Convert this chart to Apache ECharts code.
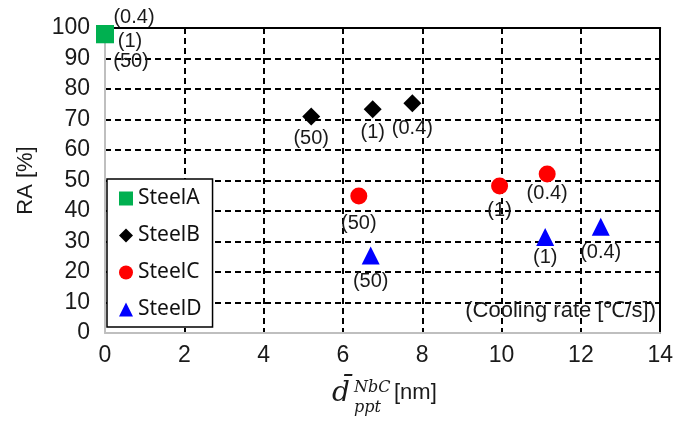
<!DOCTYPE html>
<html>
<head>
<meta charset="utf-8">
<script src="https://cdn.jsdelivr.net/npm/echarts@6/dist/echarts.min.js"></script>
<style>
  html, body { margin: 0; padding: 0; background: #fff; }
  #chart { width: 676px; height: 423px; }
</style>
</head>
<body>
<div id="chart"></div>
<script>
// data
var seriesNames = ['SteelA', 'SteelB', 'SteelC', 'SteelD'];
var steelA_x = [0, 0, 0];
var steelA_y = [98, 98, 98];
var steelA_rate = ['(0.4)', '(1)', '(50)'];
var steelB_x = [5.2, 6.75, 7.75];
var steelB_y = [71, 73.4, 75.3];
var steelB_rate = ['(50)', '(1)', '(0.4)'];
var steelC_x = [6.4, 9.95, 11.15];
var steelC_y = [44.9, 48.2, 52.1];
var steelC_rate = ['(50)', '(1)', '(0.4)'];
var steelD_x = [6.7, 11.1, 12.5];
var steelD_y = [25.4, 31.5, 34.8];
var steelD_rate = ['(50)', '(1)', '(0.4)'];
var xTicks = [0, 2, 4, 6, 8, 10, 12, 14];
var yTicks = [0, 10, 20, 30, 40, 50, 60, 70, 80, 90, 100];

// where each label sits relative to its marker (px)
var labelShift = {
	SteelA: [[29, -17], [25, 7], [26, 27]],
	SteelB: [[0, 22], [0, 23], [0, 25]],
	SteelC: [[0, 27], [0, 24], [0, 19]],
	SteelD: [[0, 26], [0, 21], [0, 26]]
};

var font = 'Liberation Sans, Arial, sans-serif';

function makeSeries(name, xs, ys, rates, symbol, size, color) {
	var data = [];
	for (var i = 0; i < xs.length; i++) {
		data.push({
			value: [xs[i], ys[i]],
			label: { offset: labelShift[name][i] }
		});
	}
	return {
		name: name,
		type: 'scatter',
		symbol: symbol,
		symbolSize: size,
		itemStyle: { color: color, opacity: 1 },
		label: {
			show: true,
			position: 'inside',
			color: '#1a1a1a',
			fontSize: 20,
			fontFamily: font,
			formatter: function (p) { return rates[p.dataIndex]; }
		},
		emphasis: { disabled: true },
		data: data
	};
}

var chart = echarts.init(document.getElementById('chart'), null, { renderer: 'canvas' });

var option = {
	backgroundColor: '#fff',
	animation: false,
	grid: { left: 105, right: 10, top: 28, bottom: 90 },
	legend: {
		orient: 'vertical',
		left: 107,
		top: 179,
		data: seriesNames,
		backgroundColor: '#fff',
		borderColor: '#000',
		borderWidth: 1.5,
		borderRadius: 0,
		padding: [9, 11, 7, 12],
		itemWidth: 14,
		itemHeight: 14,
		itemGap: 16,
		textStyle: { fontFamily: 'Noto Sans, sans-serif', fontSize: 21, color: '#111' }
	},
	xAxis: [{
		type: 'value',
		min: 0, max: 14, interval: 2,
		axisLine: { show: true, onZero: false, lineStyle: { color: '#bfbfbf', width: 2 } },
		axisTick: { show: false },
		axisLabel: {
			margin: 11, fontSize: 23, color: '#1a1a1a', fontFamily: font,
			formatter: function (v) { return xTicks.indexOf(v) >= 0 ? String(v) : ''; }
		},
		splitLine: { show: true, lineStyle: { color: '#000', type: [6, 4], width: 2 } }
	}, {
		type: 'value',
		position: 'top',
		min: 0, max: 14, interval: 2,
		axisLine: { show: true, onZero: false, lineStyle: { color: '#000', width: 2 } },
		axisTick: { show: false },
		axisLabel: { show: false },
		splitLine: { show: false }
	}],
	yAxis: [{
		type: 'value',
		min: 0, max: 100, interval: 10,
		name: 'RA [%]',
		nameLocation: 'middle',
		nameGap: 68,
		nameTextStyle: { fontSize: 22, color: '#1a1a1a', fontFamily: font },
		axisLine: { show: true, onZero: false, lineStyle: { color: '#bfbfbf', width: 2 } },
		axisTick: { show: false },
		axisLabel: {
			margin: 15, fontSize: 23, color: '#1a1a1a', fontFamily: font,
			formatter: function (v) { return yTicks.indexOf(v) >= 0 ? String(v) : ''; }
		},
		splitLine: { show: true, lineStyle: { color: '#000', type: [6, 4], width: 2 } }
	}, {
		type: 'value',
		position: 'right',
		min: 0, max: 100, interval: 10,
		axisLine: { show: true, onZero: false, lineStyle: { color: '#000', width: 2 } },
		axisTick: { show: false },
		axisLabel: { show: false },
		splitLine: { show: false }
	}],
	graphic: [
		{
			type: 'text', right: 20, top: 300, z: 10,
			style: { text: '(Cooling rate [\u2103/s])', fontSize: 22, fontFamily: font, fill: '#1a1a1a' }
		},
		{
			type: 'text', left: 332, top: 380,
			style: { text: 'd\u0304', fontSize: 28, fontStyle: 'italic', fontFamily: 'DejaVu Serif, serif', fill: '#1a1a1a' }
		},
		{
			type: 'text', left: 354, top: 380,
			style: { text: 'NbC', fontSize: 16, fontStyle: 'italic', fontFamily: 'DejaVu Serif, serif', fill: '#1a1a1a' }
		},
		{
			type: 'text', left: 354, top: 400,
			style: { text: 'ppt', fontSize: 16, fontStyle: 'italic', fontFamily: 'DejaVu Serif, serif', fill: '#1a1a1a' }
		},
		{
			type: 'text', left: 394, top: 382,
			style: { text: '[nm]', fontSize: 22, fontFamily: font, fill: '#1a1a1a' }
		}
	],
	series: [
		makeSeries('SteelA', steelA_x, steelA_y, steelA_rate, 'rect', 18, '#00b050'),
		makeSeries('SteelB', steelB_x, steelB_y, steelB_rate, 'diamond', 18, '#000000'),
		makeSeries('SteelC', steelC_x, steelC_y, steelC_rate, 'circle', 17, '#ff0000'),
		makeSeries('SteelD', steelD_x, steelD_y, steelD_rate, 'triangle', 18, '#0000ff')
	]
};

chart.setOption(option);
</script>
</body>
</html>
